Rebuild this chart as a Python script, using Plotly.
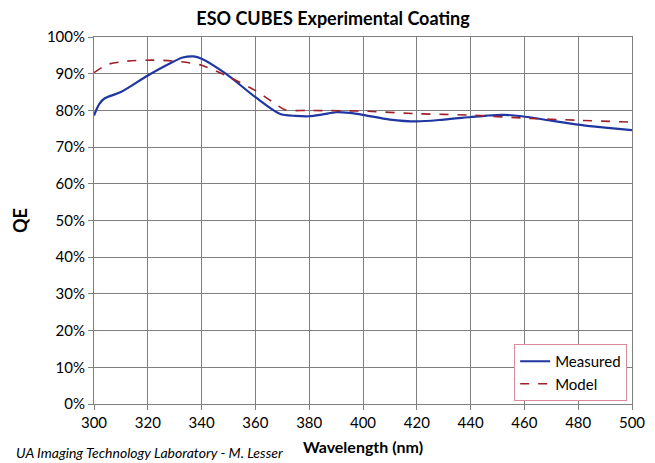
import plotly.graph_objects as go

meas_wl = [300, 302, 304, 310, 320, 328, 333, 337, 340, 349, 360, 369, 375, 380, 385, 390, 395, 400, 410, 420, 430, 440, 446, 452, 459, 470, 479, 490, 500]
meas_qe = [78.6, 81.8, 83.3, 85.0, 89.5, 92.7, 94.4, 94.7, 94.1, 90.0, 83.6, 79.1, 78.5, 78.4, 78.9, 79.5, 79.3, 78.8, 77.5, 77.0, 77.5, 78.2, 78.6, 78.8, 78.4, 77.2, 76.2, 75.3, 74.6]

model_wl = [300, 305, 312, 322, 332, 340, 349, 360, 366, 371, 380, 400, 420, 440, 460, 480, 500]
model_qe = [90.3, 92.5, 93.4, 93.7, 93.3, 92.3, 89.5, 85.4, 82.5, 80.2, 80.0, 79.8, 79.1, 78.7, 77.9, 77.3, 76.8]

x_ticks = list(range(300, 501, 20))
y_ticks = list(range(0, 101, 10))

FONT = "Lato, 'Open Sans', sans-serif"

fig = go.Figure()
fig.add_trace(go.Scatter(x=meas_wl, y=meas_qe, mode="lines", name="Measured",
                         line=dict(color="#1f36a3", width=2.2, shape="spline", smoothing=0.8)))
fig.add_trace(go.Scatter(x=model_wl, y=model_qe, mode="lines", name="Model",
                         line=dict(color="#9e1f2a", width=1.6, dash="dash", shape="spline", smoothing=0.8)))

fig.update_layout(
    width=655, height=463,
    margin=dict(l=83, r=31, t=29, b=67),
    paper_bgcolor="white", plot_bgcolor="white",
    font=dict(family=FONT, color="black"),
    title=dict(text="<b>ESO CUBES Experimental Coating</b>", x=325/655, xanchor="center",
               y=1 - 4/463, yanchor="top", pad=dict(t=0, b=0), font=dict(size=18, family=FONT)),
    xaxis=dict(range=[300, 500], tickvals=x_ticks, ticktext=[str(v) for v in x_ticks],
               showgrid=True, gridcolor="#7f7f7f", gridwidth=1,
               showline=True, linecolor="#7f7f7f", mirror=True,
               ticks="outside", ticklen=5, tickcolor="#7f7f7f",
               tickfont=dict(size=15), zeroline=False,
               title=dict(text="<b>Wavelength (nm)</b>", font=dict(size=16), standoff=11)),
    yaxis=dict(range=[0, 100], tickvals=y_ticks, ticktext=[f"{v}%" for v in y_ticks],
               showgrid=True, gridcolor="#7f7f7f", gridwidth=1,
               showline=True, linecolor="#7f7f7f", mirror=True,
               ticks="outside", ticklen=5, tickcolor="#7f7f7f",
               tickfont=dict(size=15), zeroline=False,
               title=dict(text="<b>QE</b>", font=dict(size=18), standoff=14)),
    legend=dict(x=0.991, y=0.1635, xanchor="right", yanchor="top",
                bgcolor="white", bordercolor="#d98a9c", borderwidth=1,
                font=dict(size=15), tracegroupgap=2, itemwidth=30),
    showlegend=True,
)

fig.add_annotation(text="<i>UA Imaging Technology Laboratory - M. Lesser</i>",
                   xref="paper", yref="paper", x=-80/541, y=-48/367,
                   xanchor="left", yanchor="middle", showarrow=False,
                   font=dict(size=14, family=FONT))

fig.write_html("out.html")
